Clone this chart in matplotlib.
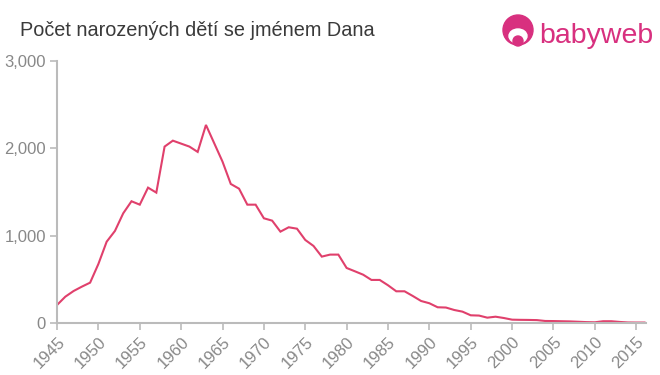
import matplotlib
matplotlib.use("Agg")
import matplotlib.pyplot as plt
from matplotlib.patches import Circle, Ellipse

years = list(range(1945, 2017))
counts = [206, 301, 366, 416, 462, 676, 931, 1054, 1256, 1394,
          1355, 1550, 1493, 2020, 2088, 2054, 2020, 1959, 2268, 2058,
          1848, 1592, 1538, 1355, 1355, 1199, 1172, 1046, 1096, 1080,
          951, 882, 760, 783, 783, 630, 592, 553, 493, 493,
          432, 363, 363, 309, 252, 226, 180, 177, 149, 130,
          88, 85, 61, 72, 57, 38, 36, 35, 33, 23,
          22, 20, 18, 14, 10, 8, 20, 20, 12, 6,
          5, 5]
xticks = list(range(1945, 2016, 5))
yticks = [0, 1000, 2000, 3000]
ytick_labels = ["0", "1,000", "2,000", "3,000"]
title = "Počet narozených dětí se jménem Dana"

plt.rcParams['font.family'] = ['Liberation Sans', 'DejaVu Sans']
fig = plt.figure(figsize=(6.6, 3.75), dpi=100)
ax = fig.add_axes([0.0864, 0.1387, 0.8926, 0.6986])
ax.plot(years, counts, color='#e0406c', lw=1.5, solid_joinstyle='miter')
ax.set_xlim(1945, 2016.2)
ax.set_ylim(0, 3000)
ax.set_xticks(xticks)
ax.set_xticklabels([str(x) for x in xticks], rotation=45, ha='right', va='top',
                   rotation_mode='anchor')
ax.set_yticks(yticks)
ax.set_yticklabels(ytick_labels)
for s in ['top', 'right']:
    ax.spines[s].set_visible(False)
for s in ['left', 'bottom']:
    ax.spines[s].set_color('#bbbbbb')
    ax.spines[s].set_linewidth(1.5)
ax.tick_params(axis='both', colors='#bbbbbb', length=5, width=1.2, labelcolor='#888888',
               labelsize=12)
ax.tick_params(axis='y', pad=3)
ax.tick_params(axis='x', pad=3)

fig.text(20/660, 1-30/375, title, fontsize=14.3, color='#3a3a3a', va='center', ha='left')

# logo
lax = fig.add_axes([0, 0, 1, 1], facecolor='none')
lax.set_xlim(0, 660)
lax.set_ylim(375, 0)
lax.axis('off')
pink = '#d8307f'
lax.add_patch(Circle((518, 30), 15, color=pink))
lax.add_patch(Ellipse((518, 36), 18, 14, color='white'))
lax.add_patch(Circle((518, 41), 5, color=pink))
lax.text(539, 43, "babyweb", fontsize=20.5, color=pink, ha='left', va='baseline')

fig.savefig("out.png", dpi=100)
